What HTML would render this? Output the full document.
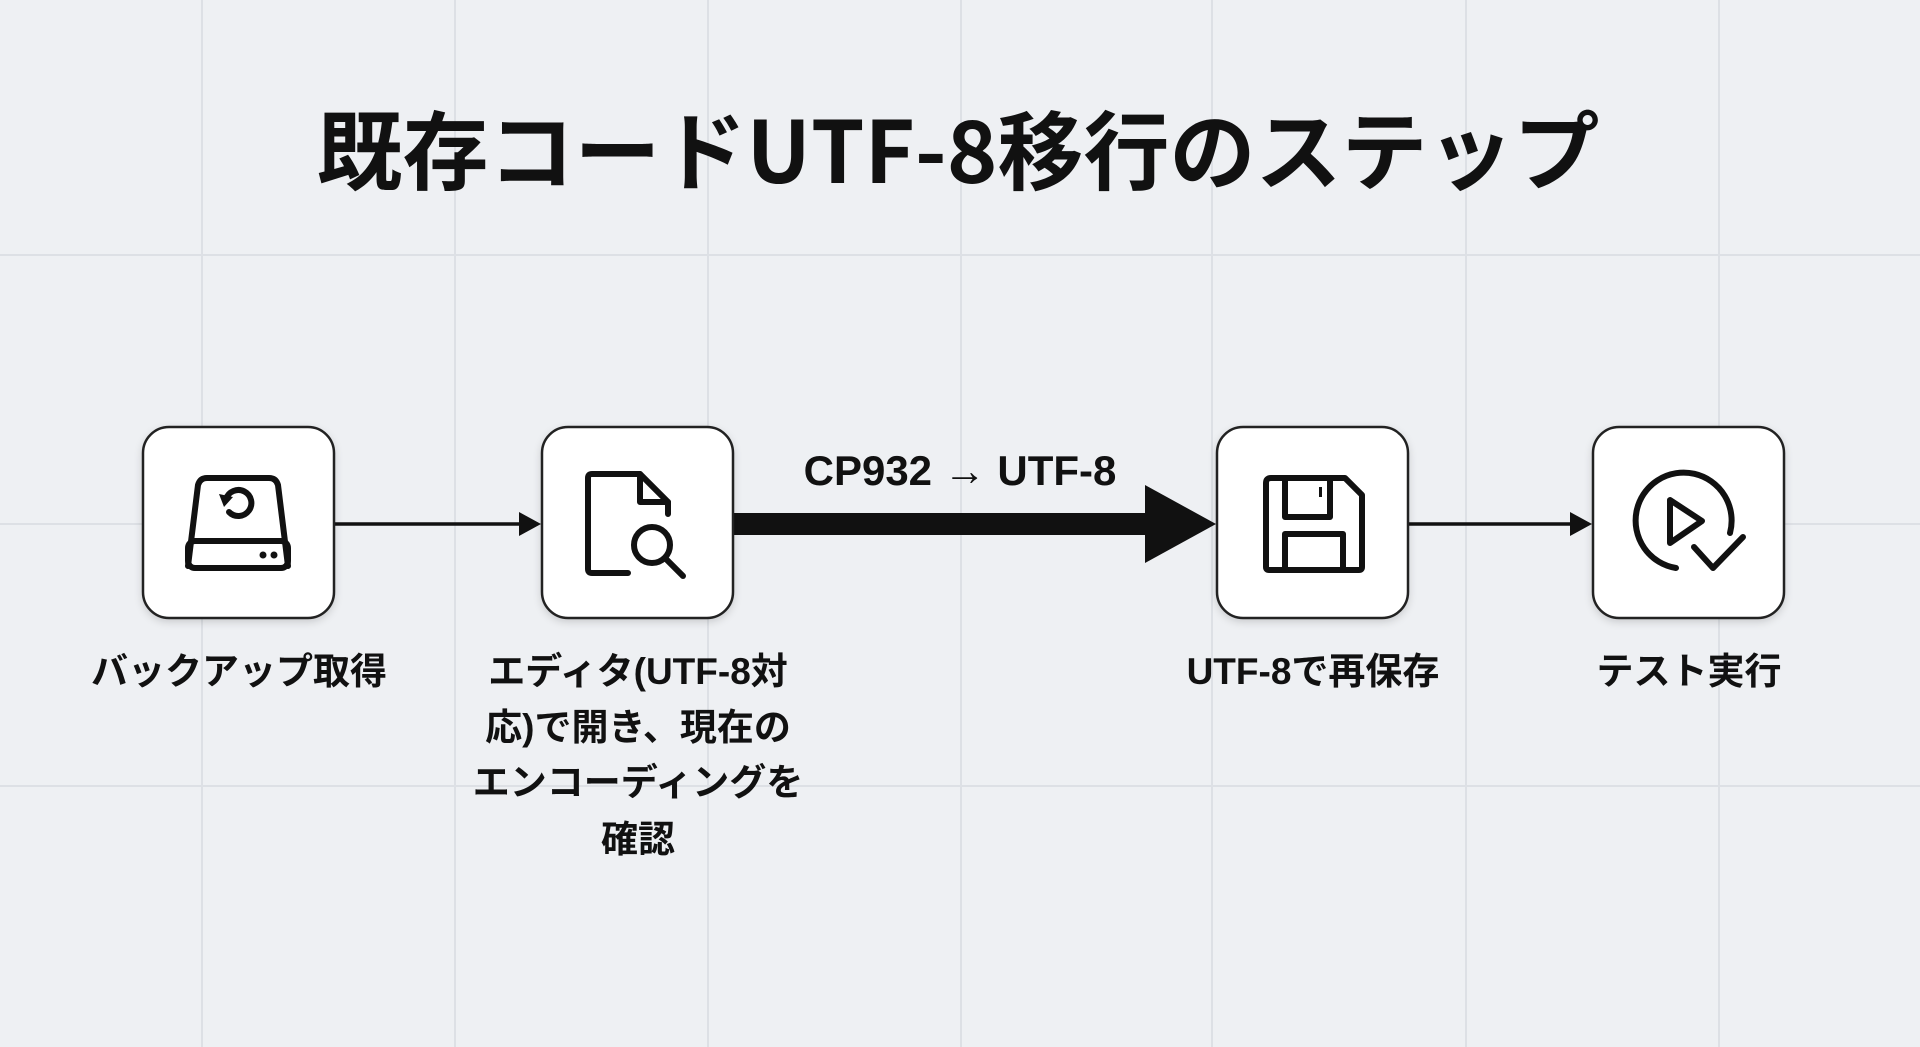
<!DOCTYPE html>
<html><head><meta charset="utf-8"><style>
html,body{margin:0;padding:0;width:1920px;height:1047px;overflow:hidden;background:#eef0f3;}
svg{display:block}
text{font-family:"Liberation Sans","Noto Sans CJK JP",sans-serif;font-weight:bold;fill:#111;}
</style></head><body>
<svg width="1920" height="1047" viewBox="0 0 1920 1047" xmlns="http://www.w3.org/2000/svg">
<defs>
<filter id="sh" x="-20%" y="-20%" width="140%" height="140%"><feDropShadow dx="0" dy="3" stdDeviation="4" flood-color="#000" flood-opacity="0.15"/></filter>
</defs>
<g stroke="#dde0e5" stroke-width="2">
<line x1="202" y1="0" x2="202" y2="1047"/><line x1="455" y1="0" x2="455" y2="1047"/><line x1="708" y1="0" x2="708" y2="1047"/><line x1="961" y1="0" x2="961" y2="1047"/><line x1="1212" y1="0" x2="1212" y2="1047"/><line x1="1466" y1="0" x2="1466" y2="1047"/><line x1="1719" y1="0" x2="1719" y2="1047"/>
<line x1="0" y1="255" x2="1920" y2="255"/><line x1="0" y1="524" x2="1920" y2="524"/><line x1="0" y1="786" x2="1920" y2="786"/>
</g>
<text x="958" y="183" font-size="86" text-anchor="middle" style="font-family:'Noto Sans CJK JP',sans-serif">既存コードUTF-8移行のステップ</text>

<!-- arrows -->
<line x1="335" y1="524" x2="522" y2="524" stroke="#111" stroke-width="3.5"/>
<polygon points="541,524 519,512 519,536" fill="#111"/>
<line x1="1408" y1="524" x2="1572" y2="524" stroke="#111" stroke-width="3.5"/>
<polygon points="1592,524 1570,512 1570,536" fill="#111"/>
<rect x="733" y="513" width="414" height="22" fill="#111"/>
<polygon points="1216,524 1145,485 1145,563" fill="#111"/>
<text x="960" y="485" font-size="42" text-anchor="middle">CP932 → UTF-8</text>

<!-- boxes -->
<g fill="#fff" stroke="#222" stroke-width="2.5" filter="url(#sh)">
<rect x="143" y="427" width="191" height="191" rx="26"/>
<rect x="542" y="427" width="191" height="191" rx="26"/>
<rect x="1217" y="427" width="191" height="191" rx="26"/>
<rect x="1593" y="427" width="191" height="191" rx="26"/>
</g>

<!-- icon 1: drive with restore -->
<g fill="none" stroke="#111" stroke-width="6" stroke-linejoin="round" stroke-linecap="round">
<path d="M188,566 L198,485 Q200,478 207,478 L269,478 Q276,478 278,485 L288,566"/>
<rect x="188" y="541" width="100" height="27" rx="7"/>
<path d="M226,499 A13,13 0 1 1 229,512" />
</g>
<polygon points="219,494 233,497 224,507" fill="#111"/>
<circle cx="263" cy="555" r="3.5" fill="#111"/><circle cx="274" cy="555" r="3.5" fill="#111"/>

<!-- icon 2: doc search -->
<g fill="none" stroke="#111" stroke-width="6" stroke-linejoin="round" stroke-linecap="round">
<path d="M628,573 L592,573 Q588,573 588,569 L588,478 Q588,474 592,474 L640,474 L668,502 L668,514"/>
<path d="M640,474 L640,502 L668,502"/>
<circle cx="652" cy="545" r="18"/>
<line x1="665" y1="558" x2="683" y2="576"/>
</g>

<!-- icon 3: floppy -->
<g fill="none" stroke="#111" stroke-width="6" stroke-linejoin="round">
<path d="M1271,478 L1345,478 L1362,495 L1362,567 Q1362,570 1359,570 L1269,570 Q1266,570 1266,567 L1266,483 Q1266,478 1271,478 Z"/>
<path d="M1285,478 L1285,517 L1330,517 L1330,478"/>
<path d="M1285,570 L1285,534 L1343,534 L1343,570"/>
</g>
<rect x="1319" y="487" width="3" height="10" fill="#111"/>

<!-- icon 4: play circle check -->
<g fill="none" stroke="#111" stroke-width="6" stroke-linecap="round" stroke-linejoin="round">
<path d="M1676,568 A48,48 0 1 1 1730,533"/>
<path d="M1670,500 L1670,543 L1702,521 Z"/>
<path d="M1694,547 L1713,568 L1743,537"/>
</g>

<!-- labels -->
<g font-size="37" text-anchor="middle" style="font-family:'Liberation Sans','Noto Sans CJK JP',sans-serif">
<text x="239" y="684">バックアップ取得</text>
<text x="638" y="684">エディタ(UTF-8対</text>
<text x="638" y="740">応)で開き、現在の</text>
<text x="638" y="795">エンコーディングを</text>
<text x="638" y="852">確認</text>
<text x="1313" y="684">UTF-8で再保存</text>
<text x="1689" y="684">テスト実行</text>
</g>
</svg>
</body></html>
